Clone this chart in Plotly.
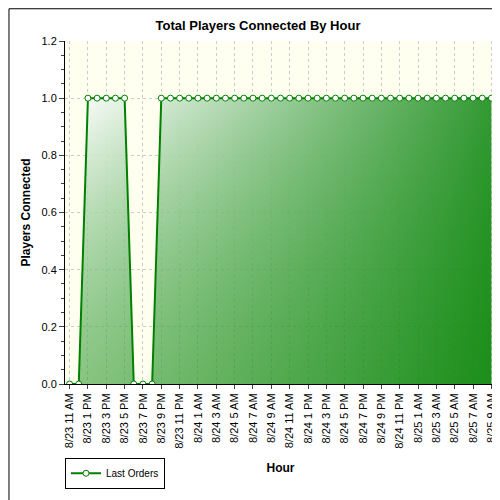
import plotly.graph_objects as go

hours = ["8/23 11 AM", "8/23 12 PM", "8/23 1 PM", "8/23 2 PM", "8/23 3 PM", "8/23 4 PM",
         "8/23 5 PM", "8/23 6 PM", "8/23 7 PM", "8/23 8 PM", "8/23 9 PM", "8/23 10 PM",
         "8/23 11 PM",
         "8/24 12 AM", "8/24 1 AM", "8/24 2 AM", "8/24 3 AM", "8/24 4 AM", "8/24 5 AM",
         "8/24 6 AM", "8/24 7 AM", "8/24 8 AM", "8/24 9 AM", "8/24 10 AM", "8/24 11 AM",
         "8/24 12 PM", "8/24 1 PM", "8/24 2 PM", "8/24 3 PM", "8/24 4 PM", "8/24 5 PM",
         "8/24 6 PM", "8/24 7 PM", "8/24 8 PM", "8/24 9 PM", "8/24 10 PM", "8/24 11 PM",
         "8/25 12 AM", "8/25 1 AM", "8/25 2 AM", "8/25 3 AM", "8/25 4 AM", "8/25 5 AM",
         "8/25 6 AM", "8/25 7 AM", "8/25 8 AM", "8/25 9 AM"]
players = [0, 0, 1, 1, 1, 1, 1, 0, 0, 0, 1, 1, 1,
           1, 1, 1, 1, 1, 1, 1, 1, 1, 1, 1, 1, 1, 1, 1, 1, 1, 1, 1, 1, 1, 1, 1, 1,
           1, 1, 1, 1, 1, 1, 1, 1, 1, 1]

x = list(range(len(hours)))
tick_idx = x[::2]

fig = go.Figure()
# vertical part of the gradient
fig.add_trace(go.Scatter(
    x=x, y=players, mode="none", fill="tozeroy", showlegend=False, hoverinfo="skip",
    fillgradient=dict(type="vertical",
                      colorscale=[[0, "rgba(60,160,60,0.6)"], [1, "rgba(255,255,255,0.95)"]])))
# horizontal overlay to make it diagonal
fig.add_trace(go.Scatter(
    x=x, y=players, mode="none", fill="tozeroy", showlegend=False, hoverinfo="skip",
    fillgradient=dict(type="horizontal",
                      colorscale=[[0, "rgba(0,128,0,0)"], [1, "rgba(0,128,0,0.8)"]])))
fig.add_trace(go.Scatter(
    x=x, y=players, mode="lines+markers", name="Last Orders",
    line=dict(color="#008000", width=2),
    marker=dict(symbol="circle", size=6, color="white", line=dict(color="#008000", width=1))))

fig.update_layout(
    width=500, height=500,
    margin=dict(l=57, r=12, t=33, b=124),
    paper_bgcolor="white", plot_bgcolor="#fffff0",
    font=dict(family="Liberation Sans, Arial", size=11, color="black"),
    title=dict(text="<b>Total Players Connected By Hour</b>", x=0.5, y=0.975,
               font=dict(size=13)),
    showlegend=True,
    legend=dict(x=0, y=-0.215, xanchor="left", yanchor="top", orientation="h",
                bordercolor="black", borderwidth=1, font=dict(size=10),
                itemwidth=30, tracegroupgap=0),
    shapes=[dict(type="rect", xref="paper", yref="paper", x0=-0.13, x1=1.025,
                 y0=-0.357, y1=1.094, line=dict(color="black", width=1))],
)
fig.update_xaxes(range=[-0.5, len(hours) - 0.5], tickvals=tick_idx,
                 ticktext=[hours[i] for i in tick_idx], tickangle=-90,
                 showgrid=True, gridcolor="#cccccc", griddash="dot", automargin=False,
                 showline=True, linecolor="black", ticks="outside", ticklen=4,
                 title=dict(text="<b>Hour</b>", font=dict(size=12), standoff=15),
                 zeroline=False)
fig.update_yaxes(range=[0, 1.2], dtick=0.2, tickformat=".1f", automargin=False,
                 showgrid=True, gridcolor="#cccccc", griddash="dot",
                 showline=True, linecolor="black", ticks="outside", ticklen=5,
                 minor=dict(ticks="outside", ticklen=3, dtick=0.05),
                 title=dict(text="<b>Players Connected</b>", font=dict(size=12), standoff=8),
                 zeroline=False)

fig.write_html("out.html")
